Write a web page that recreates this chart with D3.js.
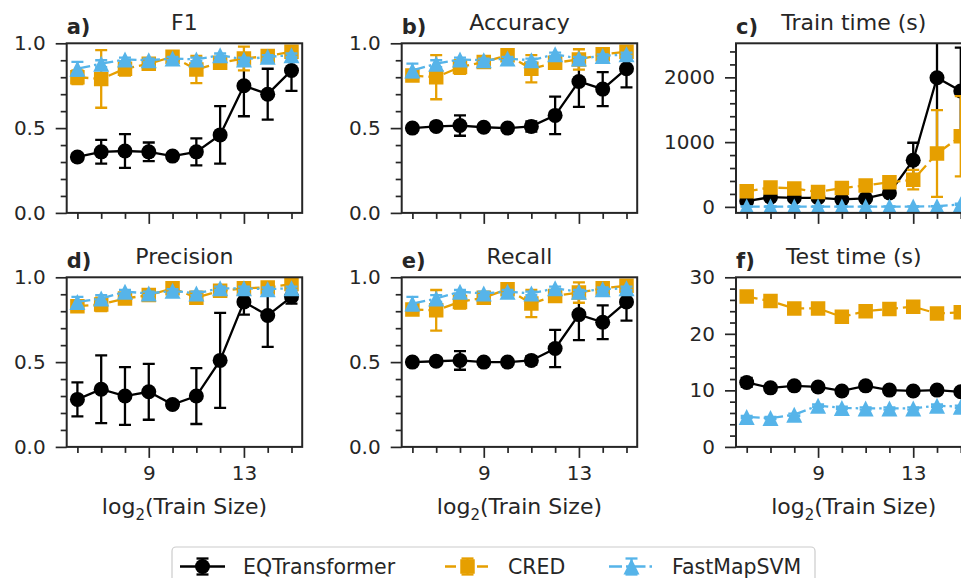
<!DOCTYPE html>
<html>
<head>
<meta charset="utf-8">
<script src="https://cdn.jsdelivr.net/npm/d3@7"></script>
<style>
  body { margin: 0; background: #fff; }
  svg { display: block; font-family: "DejaVu Sans", sans-serif; }
</style>
</head>
<body>
<svg id="chart" width="961" height="578"></svg>
<script>
// x values: log2(train size)
var trainSizes = [6, 7, 8, 9, 10, 11, 12, 13, 14, 15];
var xMajorTicks = [9, 13];

var scoreTicks = [0, 0.5, 1.0];
var trainTicks = [0, 1000, 2000];
var testTicks = [0, 10, 20, 30];

var seriesNames = ['EQTransformer', 'CRED', 'FastMapSVM'];

// F1
var f1Eqt = [0.33, 0.36, 0.365, 0.36, 0.335, 0.36, 0.46, 0.75, 0.70, 0.84];
var f1EqtErr = [0.02, 0.07, 0.10, 0.055, 0.015, 0.08, 0.17, 0.18, 0.15, 0.12];
var f1Cred = [0.80, 0.79, 0.85, 0.88, 0.92, 0.845, 0.885, 0.91, 0.925, 0.95];
var f1CredErr = [0.04, 0.17, 0.04, 0.02, 0.02, 0.08, 0.03, 0.07, 0.02, 0.02];
var f1Fms = [0.85, 0.88, 0.905, 0.90, 0.91, 0.905, 0.93, 0.905, 0.92, 0.93];
var f1FmsErr = [0.04, 0.02, 0.01, 0.01, 0.01, 0.01, 0.01, 0.01, 0.01, 0.01];

// Accuracy
var accEqt = [0.50, 0.51, 0.515, 0.505, 0.50, 0.51, 0.575, 0.775, 0.73, 0.85];
var accEqtErr = [0.01, 0.02, 0.06, 0.01, 0.01, 0.03, 0.11, 0.15, 0.10, 0.11];
var accCred = [0.81, 0.80, 0.86, 0.89, 0.93, 0.85, 0.885, 0.905, 0.935, 0.95];
var accCredErr = [0.03, 0.13, 0.04, 0.02, 0.02, 0.08, 0.03, 0.06, 0.02, 0.02];
var accFms = [0.84, 0.88, 0.905, 0.90, 0.91, 0.90, 0.935, 0.91, 0.925, 0.935];
var accFmsErr = [0.04, 0.02, 0.01, 0.01, 0.01, 0.01, 0.01, 0.01, 0.01, 0.01];

// Train time (s)
var trainEqt = [90, 150, 140, 140, 115, 130, 215, 720, 1995, 1790];
var trainEqtErr = [20, 20, 20, 20, 20, 20, 30, 270, 1170, 670];
var trainCred = [240, 300, 285, 230, 290, 330, 380, 420, 825, 1090];
var trainCredErr = [40, 40, 30, 30, 30, 30, 40, 150, 670, 620];
var trainFms = [5, 5, 5, 5, 5, 5, 5, 5, 10, 40];
var trainFmsErr = [2, 2, 2, 2, 2, 2, 2, 2, 3, 10];

// Precision
var precEqt = [0.28, 0.34, 0.30, 0.325, 0.25, 0.30, 0.51, 0.855, 0.775, 0.885];
var precEqtErr = [0.10, 0.20, 0.17, 0.165, 0.02, 0.165, 0.28, 0.075, 0.185, 0.04];
var precCred = [0.83, 0.84, 0.875, 0.895, 0.935, 0.88, 0.92, 0.935, 0.94, 0.96];
var precCredErr = [0.02, 0.04, 0.03, 0.02, 0.02, 0.03, 0.02, 0.02, 0.02, 0.02];
var precFms = [0.855, 0.875, 0.915, 0.905, 0.92, 0.905, 0.935, 0.935, 0.93, 0.935];
var precFmsErr = [0.03, 0.02, 0.01, 0.01, 0.01, 0.01, 0.01, 0.01, 0.01, 0.01];

// Recall
var recEqt = [0.50, 0.505, 0.51, 0.50, 0.50, 0.51, 0.58, 0.78, 0.735, 0.855];
var recEqtErr = [0.01, 0.02, 0.055, 0.01, 0.01, 0.025, 0.11, 0.15, 0.10, 0.11];
var recCred = [0.81, 0.805, 0.855, 0.88, 0.93, 0.845, 0.89, 0.91, 0.935, 0.95];
var recCredErr = [0.03, 0.12, 0.04, 0.02, 0.02, 0.08, 0.03, 0.06, 0.02, 0.02];
var recFms = [0.845, 0.875, 0.915, 0.905, 0.915, 0.905, 0.935, 0.915, 0.93, 0.935];
var recFmsErr = [0.04, 0.02, 0.01, 0.01, 0.01, 0.01, 0.01, 0.01, 0.01, 0.01];

// Test time (s)
var testEqt = [11.4, 10.45, 10.8, 10.6, 9.9, 10.8, 10.05, 9.9, 10.05, 9.75];
var testEqtErr = [0.8, 0.3, 0.3, 0.3, 0.3, 0.3, 0.3, 0.3, 0.3, 0.3];
var testCred = [26.6, 25.8, 24.5, 24.5, 23.0, 24.0, 24.4, 24.8, 23.6, 23.8];
var testCredErr = [0.6, 0.4, 0.4, 0.4, 0.4, 0.4, 0.7, 0.4, 0.6, 0.4];
var testFms = [5.3, 5.1, 5.7, 7.3, 6.9, 6.8, 6.8, 6.8, 7.3, 7.1];
var testFmsErr = [0.2, 0.2, 0.2, 0.2, 0.2, 0.2, 0.2, 0.2, 0.2, 0.2];

// styles
var colors = ['#000000', '#E69F00', '#56B4E9'];
var dashes = [null, '11,5', '13,4,2.5,4'];
var shapes = [d3.symbolCircle, d3.symbolSquare, 'tri'];
var ink = '#262626';
var lw = 2.3;

var svg = d3.select('#chart');

var colX = [66.7, 401.7, 736];
var rowY = [43.3, 277.3];
var axW = 235.5, axH = 169.6;

var panels = [
  {tag: 'a)', title: 'F1', col: 0, row: 0, dom: [0, 1], ticks: scoreTicks, minor: 0.1, fmt: d3.format('.1f'),
   ys: [f1Eqt, f1Cred, f1Fms], es: [f1EqtErr, f1CredErr, f1FmsErr]},
  {tag: 'b)', title: 'Accuracy', col: 1, row: 0, dom: [0, 1], ticks: scoreTicks, minor: 0.1, fmt: d3.format('.1f'),
   ys: [accEqt, accCred, accFms], es: [accEqtErr, accCredErr, accFmsErr]},
  {tag: 'c)', title: 'Train time (s)', col: 2, row: 0, dom: [-93, 2526], ticks: trainTicks, minor: 200, fmt: d3.format('d'),
   ys: [trainEqt, trainCred, trainFms], es: [trainEqtErr, trainCredErr, trainFmsErr]},
  {tag: 'd)', title: 'Precision', col: 0, row: 1, dom: [0, 1], ticks: scoreTicks, minor: 0.1, fmt: d3.format('.1f'),
   ys: [precEqt, precCred, precFms], es: [precEqtErr, precCredErr, precFmsErr]},
  {tag: 'e)', title: 'Recall', col: 1, row: 1, dom: [0, 1], ticks: scoreTicks, minor: 0.1, fmt: d3.format('.1f'),
   ys: [recEqt, recCred, recFms], es: [recEqtErr, recCredErr, recFmsErr]},
  {tag: 'f)', title: 'Test time (s)', col: 2, row: 1, dom: [0, 30], ticks: testTicks, minor: 2, fmt: d3.format('d'),
   ys: [testEqt, testCred, testFms], es: [testEqtErr, testCredErr, testFmsErr]}
];

function markerPath(shape) {
  if (shape === 'tri') return 'M0,-8L8,8L-8,8Z';
  var size = shape === d3.symbolCircle ? Math.PI * 7.5 * 7.5 : 14.5 * 14.5;
  return d3.symbol().type(shape).size(size)();
}

function drawSeries(g, x, y, xs, ys, es, i) {
  var data = xs.map(function (d, k) { return {x: d, y: ys[k], e: es[k]}; });
  var col = colors[i];
  // error bars
  var eb = g.append('g').attr('stroke', col).attr('stroke-width', lw);
  data.forEach(function (d) {
    var px = x(d.x);
    eb.append('line').attr('x1', px).attr('x2', px).attr('y1', y(d.y - d.e)).attr('y2', y(d.y + d.e));
    eb.append('line').attr('x1', px - 6).attr('x2', px + 6).attr('y1', y(d.y - d.e)).attr('y2', y(d.y - d.e));
    eb.append('line').attr('x1', px - 6).attr('x2', px + 6).attr('y1', y(d.y + d.e)).attr('y2', y(d.y + d.e));
  });
  var line = d3.line().x(function (d) { return x(d.x); }).y(function (d) { return y(d.y); });
  g.append('path').datum(data).attr('d', line).attr('fill', 'none')
    .attr('stroke', col).attr('stroke-width', lw).attr('stroke-dasharray', dashes[i]);
  g.selectAll(null).data(data).enter().append('path')
    .attr('d', markerPath(shapes[i]))
    .attr('transform', function (d) { return 'translate(' + x(d.x) + ',' + y(d.y) + ')'; })
    .attr('fill', col);
}

panels.forEach(function (p, pi) {
  var left = colX[p.col], top = rowY[p.row];
  var g = svg.append('g').attr('transform', 'translate(' + left + ',' + top + ')');
  var x = d3.scaleLinear().domain([5.55, 15.45]).range([0, axW]);
  var y = d3.scaleLinear().domain(p.dom).range([axH, 0]);

  var clipId = 'clip' + pi;
  g.append('clipPath').attr('id', clipId).append('rect').attr('width', axW).attr('height', axH);
  var plot = g.append('g').attr('clip-path', 'url(#' + clipId + ')');
  for (var i = 0; i < 3; i++) {
    drawSeries(plot, x, y, trainSizes, p.ys[i], p.es[i], i);
  }

  // minor ticks
  var minorY = d3.range(0, p.dom[1] + 1e-9, p.minor).filter(function (v) {
    return p.ticks.every(function (t) { return Math.abs(t - v) > 1e-6; });
  });
  var minorX = trainSizes.filter(function (v) { return xMajorTicks.indexOf(v) < 0; });

  var yMinor = g.append('g').call(d3.axisLeft(y).tickValues(minorY).tickSize(6).tickFormat(''));
  var yMajor = g.append('g').call(d3.axisLeft(y).tickValues(p.ticks).tickSize(11).tickPadding(10).tickFormat(p.fmt));
  var xMinor = g.append('g').attr('transform', 'translate(0,' + axH + ')')
    .call(d3.axisBottom(x).tickValues(minorX).tickSize(6).tickFormat(''));
  var xMajor = g.append('g').attr('transform', 'translate(0,' + axH + ')')
    .call(d3.axisBottom(x).tickValues(xMajorTicks).tickSize(11).tickPadding(8)
      .tickFormat(p.row === 1 ? d3.format('d') : ''));

  [yMinor, yMajor, xMinor, xMajor].forEach(function (a) {
    a.select('.domain').remove();
    a.selectAll('line').attr('stroke', ink).attr('stroke-width', 1.7);
    a.selectAll('text').attr('fill', ink).style('font-size', '20px').style('font-family', 'DejaVu Sans');
  });

  // spines
  g.append('rect').attr('width', axW).attr('height', axH)
    .attr('fill', 'none').attr('stroke', ink).attr('stroke-width', 2);

  g.append('text').attr('x', axW / 2).attr('y', -13).attr('text-anchor', 'middle')
    .attr('fill', ink).style('font-size', '22px').text(p.title);
  g.append('text').attr('x', 0).attr('y', -9)
    .attr('fill', ink).style('font-size', '21px').style('font-weight', 'bold').text(p.tag);

  if (p.row === 1) {
    var lab = g.append('text').attr('x', axW / 2).attr('y', 514 - top).attr('text-anchor', 'middle')
      .attr('fill', ink).style('font-size', '22px');
    lab.append('tspan').text('log');
    lab.append('tspan').attr('dy', 6).style('font-size', '15px').text('2');
    lab.append('tspan').attr('dy', -6).text('(Train Size)');
  }
});

// legend
var leg = svg.append('g');
leg.append('rect').attr('x', 172).attr('y', 547).attr('width', 643).attr('height', 60).attr('rx', 4)
  .attr('fill', '#fff').attr('stroke', '#cccccc').attr('stroke-width', 1.2);
var legX = [180, 445, 609];
seriesNames.forEach(function (name, i) {
  var lx = legX[i], ly = 566.5, mx = lx + 22.5;
  var gi = leg.append('g');
  gi.append('line').attr('x1', lx).attr('x2', lx + 45).attr('y1', ly).attr('y2', ly)
    .attr('stroke', colors[i]).attr('stroke-width', lw).attr('stroke-dasharray', dashes[i]);
  gi.append('line').attr('x1', mx).attr('x2', mx).attr('y1', ly - 8).attr('y2', ly + 8)
    .attr('stroke', colors[i]).attr('stroke-width', lw);
  [ly - 8, ly + 8].forEach(function (cy) {
    gi.append('line').attr('x1', mx - 6).attr('x2', mx + 6).attr('y1', cy).attr('y2', cy)
      .attr('stroke', colors[i]).attr('stroke-width', lw);
  });
  gi.append('path').attr('d', markerPath(shapes[i])).attr('transform', 'translate(' + mx + ',' + ly + ')')
    .attr('fill', colors[i]);
  gi.append('text').attr('x', lx + 63).attr('y', 573.5).attr('fill', ink)
    .style('font-size', '20.5px').text(name);
});
</script>
</body>
</html>
